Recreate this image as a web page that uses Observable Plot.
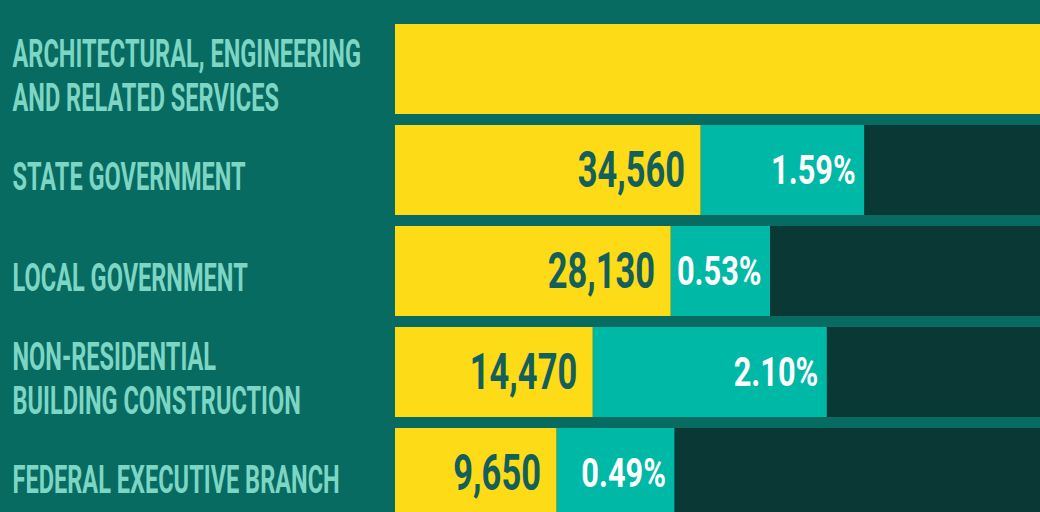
<!DOCTYPE html>
<html><head><meta charset="utf-8">
<script src="https://cdn.jsdelivr.net/npm/d3@7"></script>
<script src="https://cdn.jsdelivr.net/npm/@observablehq/plot@0.6"></script>
<style>
html,body{margin:0;padding:0;background:#086b62;overflow:hidden}
#chart svg{display:block}
</style>
</head><body><div id="chart"></div>
<script>
// ---- data ----
const categories = [
  "ARCHITECTURAL, ENGINEERING\nAND RELATED SERVICES",
  "STATE GOVERNMENT",
  "LOCAL GOVERNMENT",
  "NON-RESIDENTIAL\nBUILDING CONSTRUCTION",
  "FEDERAL EXECUTIVE BRANCH"
];
const employment = [157000, 34560, 28130, 14470, 9650];
const shareOfIndustry = [null, 1.59, 0.53, 2.10, 0.49];
const xMax = 154000;      // visible end of the bar track
const pctToX = 18000;     // length of one percentage point of the teal segment, in x units

const rows = categories.map((c, i) => ({category: c, count: employment[i], pct: shareOfIndustry[i]}));
const withPct = rows.filter(d => d.pct != null);
const pctEnd = d => d.count + d.pct * pctToX;

const font = "Roboto, 'DejaVu Sans', sans-serif";

const chart = Plot.plot({
  width: 1040,
  height: 512,
  marginLeft: 0, marginRight: 0, marginTop: 0, marginBottom: 0,
  style: {background: "#086b62", fontFamily: font},
  x: {type: "sqrt", domain: [0, xMax], range: [395, 1040], axis: null},
  y: {domain: categories, range: [22, 520], paddingInner: 0.106, paddingOuter: 0, axis: null},
  marks: [
    Plot.barX(categories, {y: d => d, x1: 0, x2: xMax, fill: "#0a3835", clip: true}),
    Plot.barX(withPct, {y: "category", x1: "count", x2: pctEnd, fill: "#00b8a6", insetRight: -56, clip: true}),
    Plot.barX(rows, {y: "category", x1: 0, x2: "count", fill: "#fddb17", clip: true}),
    Plot.text(rows.filter(d => d.count < xMax), {
      y: "category", x: "count", text: d => d3.format(",")(d.count),
      textAnchor: "end", dx: -16, fontSize: 50, fontWeight: 700, fill: "#135f5b"
    }),
    Plot.text(withPct, {
      y: "category", x: pctEnd, text: d => d.pct.toFixed(2) + "%",
      textAnchor: "end", dx: 47, fontSize: 41, fontWeight: 700, fill: "#ffffff"
    }),
    Plot.text(rows, {
      y: "category", frameAnchor: "left", text: "category",
      textAnchor: "start", dx: 12, dy: 5, fontSize: 38, fontWeight: 700, lineHeight: 1.16,
      fill: "#7dd6c4"
    })
  ]
});

// condense the glyphs horizontally around each text's anchor (the reference uses a condensed face)
const textGroups = chart.querySelectorAll('g[aria-label="text"]');
const squeezeBy = [0.69, 0.75, 0.62];
textGroups.forEach((g, k) => {
  g.querySelectorAll("text").forEach(t => {
    t.setAttribute("transform", (t.getAttribute("transform") || "") + ` scale(${squeezeBy[k]},1)`);
  });
});

document.getElementById("chart").append(chart);
</script>
</body></html>
